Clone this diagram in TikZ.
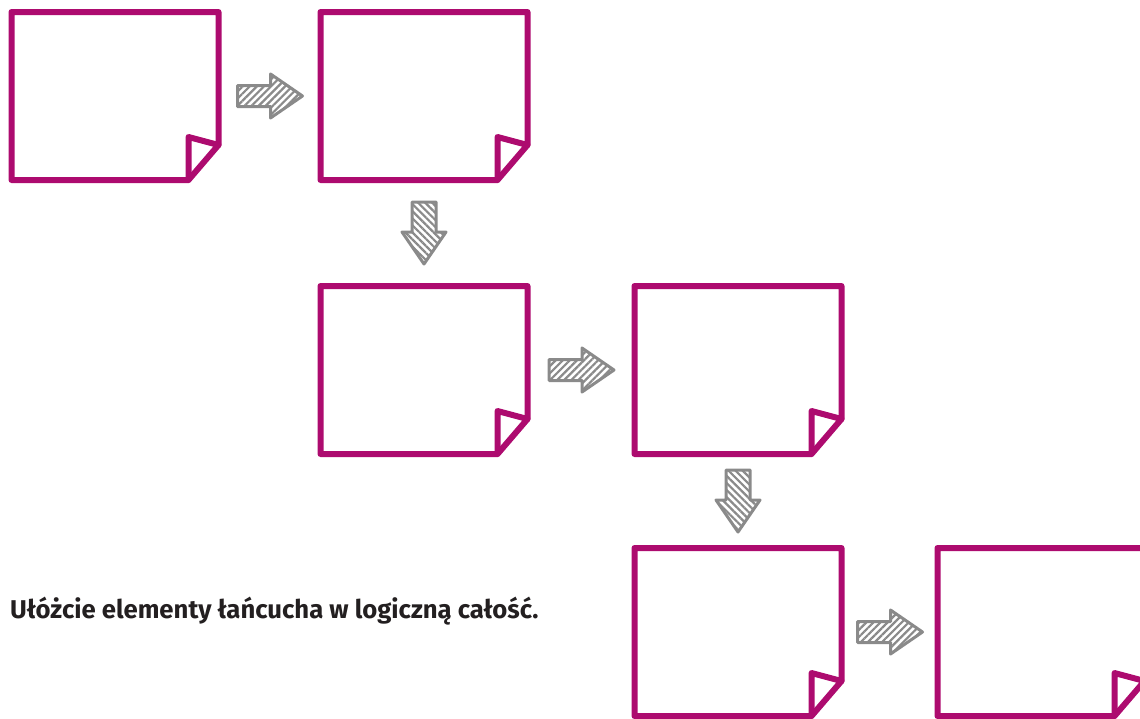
\documentclass[tikz,border=0pt]{standalone}
\usepackage{fontspec}
\setmainfont{Fira Sans}
\usetikzlibrary{calc,patterns.meta}
\definecolor{notemagenta}{HTML}{AD0B6F}
\definecolor{arrowgray}{HTML}{8A8A8A}
\definecolor{captionink}{HTML}{231F20}
\tikzset{
  notebox/.style={minimum width=207pt, minimum height=168pt, inner sep=0pt, outer sep=0pt},
  noteline/.style={draw=notemagenta, line width=6pt, line join=round, line cap=round},
  arrowline/.style={draw=arrowgray, line width=3pt, line join=round},
  hatchright/.style={pattern={Lines[angle=45,distance=5pt,line width=2.2pt]}, pattern color=arrowgray},
  hatchdown/.style={pattern={Lines[angle=-45,distance=5pt,line width=2.2pt]}, pattern color=arrowgray},
  rarrow/.pic={
    \path[arrowline,hatchright] (-32,-10.5) -- (1,-10.5) -- (1,-22) -- (33,0)
      -- (1,22) -- (1,10.5) -- (-32,10.5) -- cycle;
  },
  darrow/.pic={
    \path[arrowline,hatchdown] (-12,-31) -- (12,-31) -- (12,-1) -- (22,-1)
      -- (0,31) -- (-22,-1) -- (-12,-1) -- cycle;
  },
}
\begin{document}
\begin{tikzpicture}[x=1pt,y=-1pt]
  \useasboundingbox (0,0) rectangle (1140,718);

  % sticky notes
  \node[notebox] (b1) at (115,96) {};
  \node[notebox] (b2) at (424,96) {};
  \node[notebox] (b3) at (424,370) {};
  \node[notebox] (b4) at (738,370) {};
  \node[notebox] (b5) at (738,632) {};
  \node[notebox] (b6) at (1041,632) {};

  \foreach \b in {b1,b2,b3,b4,b5,b6} {
    \draw[noteline] (\b.north west) -- (\b.north east)
      -- ($(\b.south east)+(0pt,35pt)$) -- ($(\b.south east)+(-30pt,0pt)$)
      -- (\b.south west) -- cycle;
    \draw[noteline] ($(\b.south east)+(0pt,35pt)$)
      -- ($(\b.south east)+(-30pt,43pt)$) -- ($(\b.south east)+(-30pt,0pt)$);
  }

  % hatched arrows between the notes
  \pic at ($(b1.east)!0.5!(b2.west)$) {rarrow};
  \pic at ($(b2.south)!0.5!(b3.north)$) {darrow};
  \pic at ($(b3.east)!0.5!(b4.west)$) {rarrow};
  \pic at ($(b4.south)!0.5!(b5.north)$) {darrow};
  \pic at ($(b5.east)!0.5!(b6.west)$) {rarrow};

  % instruction
  \node[anchor=base west, inner sep=0pt, text=captionink,
        font=\fontsize{25.7}{30}\selectfont\bfseries] (caption) at (10,618)
    {Ułóżcie elementy łańcucha w logiczną całość.};
\end{tikzpicture}
\end{document}
